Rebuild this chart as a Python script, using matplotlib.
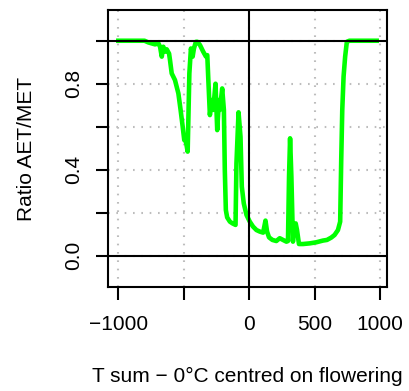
import matplotlib
matplotlib.use('Agg')
import matplotlib.pyplot as plt

plt.rcParams['font.family'] = ['Liberation Sans', 'DejaVu Sans']
plt.rcParams['font.size'] = 15

# T sum centred on flowering, and ratio AET/MET
tsum = [-1000, -800, -770, -719, -694, -681, -668, -656, -643, -630, -612, -605,
        -592, -567, -541, -524, -508, -496, -483, -470, -463, -457, -445, -432,
        -422, -407, -396, -376, -351, -330, -320, -313, -300, -287, -275, -257,
        -244, -231, -224, -206, -193, -186, -178, -168, -147, -127, -104, -97,
        -81, -66, -56, -41, -20, 5, 30, 56, 81, 107, 125, 137, 152, 178, 208,
        234, 259, 285, 297, 305, 313, 323, 335, 343, 356, 366, 381, 412, 463,
        513, 564, 595, 628, 653, 679, 696, 704, 712, 722, 734, 747, 767, 975]
ratio = [1.0, 1.0, 0.992, 0.983, 0.988, 0.972, 0.926, 0.972, 0.949, 0.96, 0.94, 0.91,
         0.848, 0.817, 0.755, 0.678, 0.6, 0.538, 0.53, 0.484, 0.678, 0.848, 0.964, 0.926,
         0.964, 0.995, 0.995, 0.98, 0.949, 0.926, 0.933, 0.833, 0.654, 0.724, 0.678, 0.8,
         0.584, 0.724, 0.678, 0.778, 0.678, 0.398, 0.212, 0.178, 0.158, 0.15, 0.143, 0.429,
         0.667, 0.553, 0.321, 0.243, 0.189, 0.158, 0.135, 0.119, 0.112, 0.107, 0.163, 0.112,
         0.085, 0.073, 0.068, 0.081, 0.073, 0.065, 0.068, 0.367, 0.546, 0.367, 0.065, 0.135,
         0.15, 0.119, 0.054, 0.054, 0.057, 0.062, 0.07, 0.073, 0.084, 0.096, 0.119, 0.158,
         0.445, 0.678, 0.833, 0.926, 0.995, 1.0, 1.0]

xticks = [-1000, -500, 0, 500, 1000]
xtick_labels = ['\u22121000', '', '0', '500', '1000']
yticks = [0.0, 0.2, 0.4, 0.6, 0.8, 1.0]
ytick_labels = ['0.0', '', '0.4', '', '0.8', '']

fig = plt.figure(figsize=(4.1, 3.91), dpi=100)
ax = fig.add_axes([108 / 410, 1 - 287 / 391, 279 / 410, 277 / 391])

# dotted grid like R's grid()
for x in xticks:
    ax.axvline(x, color='#bdbdbd', linestyle=(0, (0.8, 3.2)), linewidth=1.5, zorder=1)
for y in yticks:
    ax.axhline(y, color='#bdbdbd', linestyle=(0, (0.8, 3.2)), linewidth=1.5, zorder=1)

ax.plot(tsum, ratio, color='#00ff00', linewidth=3.3, zorder=2)

ax.axhline(0, color='black', linewidth=1.5, zorder=3)
ax.axhline(1, color='black', linewidth=1.5, zorder=3)
ax.axvline(0, color='black', linewidth=1.5, zorder=3)

ax.set_xlim(-1079, 1054)
ax.set_ylim(-0.146, 1.143)

ax.set_xticks(xticks)
ax.set_xticklabels(xtick_labels)
ax.set_yticks(yticks)
ax.set_yticklabels(ytick_labels, rotation=90, va='center')

ax.tick_params(axis='both', length=9, width=1.5, direction='out')
ax.tick_params(axis='x', pad=11.5)
ax.tick_params(axis='y', pad=9)
for s in ax.spines.values():
    s.set_linewidth(1.5)

ax.set_xlabel('T sum \u2212 0\u00b0C centred on flowering')
ax.set_ylabel('Ratio AET/MET')
ax.xaxis.set_label_coords(0.5, -0.287)
ax.yaxis.set_label_coords(-0.258, 0.5)

fig.savefig('out.png', dpi=100)
